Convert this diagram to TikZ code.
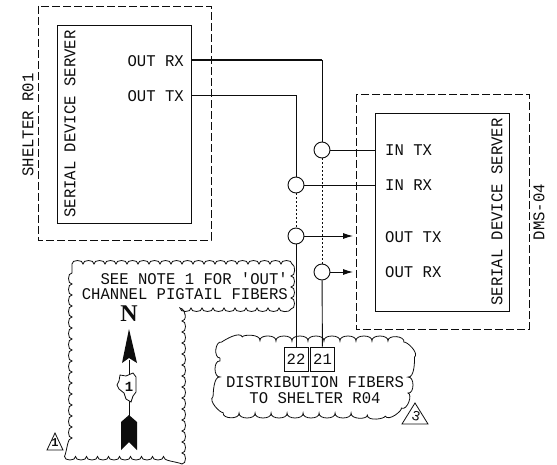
\documentclass[tikz,border=0pt]{standalone}
\usepackage{fontspec}
\setmainfont{Liberation Sans}
\newfontfamily\cadfont{Liberation Mono}
\newfontfamily\northfont{Liberation Serif}
\usetikzlibrary{decorations,arrows.meta}
\definecolor{ink}{gray}{0.05}
\pgfdeclaredecoration{scallop}{s}{
  \state{s}[width=\pgfdecorationsegmentlength]{
    \pgfpathcurveto
      {\pgfpoint{-0.05*\pgfdecorationsegmentlength}{1.33*\pgfdecorationsegmentamplitude}}
      {\pgfpoint{1.05*\pgfdecorationsegmentlength}{1.33*\pgfdecorationsegmentamplitude}}
      {\pgfpoint{\pgfdecorationsegmentlength}{0pt}}
  }
  \state{final}{\pgfpathlineto{\pgfpointdecoratedpathlast}}
}
\tikzset{
  x=1pt,y=-1pt,
  every path/.style={color=ink},
  lbl/.style={inner sep=0pt,font=\cadfont\fontsize{15.6}{16}\selectfont,yscale=1.05,text=ink},
  dashbox/.style={draw,line width=0.9pt,dash pattern=on 8pt off 3pt},
  srvbox/.style={draw,line width=0.9pt,fill=white},
  joint/.style={draw,circle,line width=0.9pt,minimum size=16pt,inner sep=0pt,fill=white},
  fiber/.style={line width=0.9pt},
  fiberheavy/.style={line width=1.3pt},
  dots/.style={line width=0.8pt,dash pattern=on 1.5pt off 2.5pt},
  arr/.style={line width=0.9pt,-{Latex[length=10pt,width=6pt]}},
  cloudsmall/.style={draw,line width=0.8pt,decorate,decoration={scallop,segment length=11pt,amplitude=3.5pt}},
  cloudbig/.style={draw,line width=0.8pt,decorate,decoration={scallop,segment length=16pt,amplitude=5pt}},
  numbox/.style={draw,line width=0.9pt,minimum width=24pt,minimum height=24pt,inner sep=0pt,fill=white,font=\cadfont\fontsize{15.6}{16}\selectfont}
}
\begin{document}
\begin{tikzpicture}
\useasboundingbox (0,0) rectangle (557,465);
% dashed enclosures
\draw[dashbox] (38,6) rectangle (211,240);
\draw[dashbox] (356,94) rectangle (529,329);
% clouds
\draw[cloudsmall] (72,264) -- (291,264) -- (291,308) -- (182,308) -- (182,456.5) -- (72,456.5) -- cycle;
\draw[cloudbig] (220,358) .. controls (221,348) and (232,341) .. (245,341) -- (385,341) .. controls (400,341) and (408,348) .. (408,360) -- (408,382) .. controls (408,396) and (400,413) .. (375,413) -- (240,413) .. controls (226,413) and (220,406) .. (220,396) -- cycle;
% servers
\node[srvbox,minimum width=134pt,minimum height=198pt,inner sep=0pt] (srvA) at (124,124) {};
\node[srvbox,minimum width=134pt,minimum height=198pt,inner sep=0pt] (srvB) at (442,212) {};
% joints and ports
\node[joint] (j1) at (322,150) {};
\node[joint] (j2) at (296,185) {};
\node[joint] (j3) at (296,236) {};
\node[joint] (j4) at (322,272) {};
\node[numbox] (n22) at (296,359) {22};
\node[numbox] (n21) at (322.5,359) {21};
\coordinate (pRX) at (191,60);
\coordinate (pTX) at (191,95);
\coordinate (bendRX) at (322,60);
\coordinate (bendTX) at (296,95);
\coordinate (tipA) at (353,236);
\coordinate (tipB) at (353,272);
% connectors
\draw[fiberheavy] (pRX) -- (bendRX);
\draw[fiber] (bendRX) -- (j1);
\draw[fiber] (pTX) -- (bendTX) -- (j2);
\draw[fiber] (j1) -- (j1 -| srvB.west);
\draw[fiber] (j2) -- (j2 -| srvB.west);
\draw[dots] (j1) -- (j4);
\draw[dots] (j2) -- (j3);
\draw[arr] (j3) -- (tipA);
\draw[arr] (j4) -- (tipB);
\draw[fiber] (j3) -- (n22);
\draw[fiber] (j4) -- (n21);
% labels
\node[rotate=90,lbl] (tShelter) at (28,125) {SHELTER R01};
\node[rotate=90,lbl] (tSrvA) at (70,124) {SERIAL DEVICE SERVER};
\node[lbl,anchor=east] (tOutRX) at (184,61) {OUT RX};
\node[lbl,anchor=east] (tOutTX) at (184,96) {OUT TX};
\node[lbl,anchor=west] (tInTX) at (385,150) {IN TX};
\node[lbl,anchor=west] (tInRX) at (385,185) {IN RX};
\node[lbl,anchor=west] (tOutTXb) at (385,237) {OUT TX};
\node[lbl,anchor=west] (tOutRXb) at (385,272) {OUT RX};
\node[rotate=90,lbl] (tSrvB) at (497,212) {SERIAL DEVICE SERVER};
\node[rotate=90,lbl] (tDMS) at (539,212) {DMS-04};
\node[lbl,anchor=east] (tNoteA) at (288,279) {SEE NOTE 1 FOR 'OUT'};
\node[lbl,anchor=east] (tNoteB) at (288,294.5) {CHANNEL PIGTAIL FIBERS};
\node[lbl] (tDistA) at (315,382) {DISTRIBUTION FIBERS};
\node[lbl] (tDistB) at (315,398) {TO SHELTER R04};
% north arrow
\node[inner sep=0pt,font=\northfont\bfseries\fontsize{24}{24}\selectfont,text=ink] (north) at (129,314) {N};
\draw[line width=0.9pt] (129,360) -- (129,416);
\fill (129,329) -- (137,363) -- (129,358) -- (122,363) -- cycle;
\draw[line width=0.8pt,fill=white] (120,375) -- (126,376) -- (133,373) -- (136,377) -- (136,392) -- (133,396) -- (131,402) -- (126,399) -- (124,393) -- (119,389) -- (117,385) -- (119,381) -- cycle;
\node[inner sep=0pt,font=\cadfont\bfseries\fontsize{14}{14}\selectfont,text=ink] (ilNum) at (129,387) {1};
\fill (129,415) -- (137,422) -- (137,450) -- (129,442) -- (121,450) -- (121,422) -- cycle;
% revision triangles
\draw[line width=0.8pt] (55,433) -- (63,450) -- (47,450) -- cycle;
\node[inner sep=0pt,font=\cadfont\bfseries\fontsize{12}{12}\selectfont,text=ink] (triA) at (55,443) {1};
\draw[line width=0.8pt] (415,403) -- (428,424) -- (402,424) -- cycle;
\node[inner sep=0pt,rotate=-15,font=\cadfont\fontsize{14}{14}\selectfont,text=ink] (triB) at (416,416) {3};
\end{tikzpicture}
\end{document}
